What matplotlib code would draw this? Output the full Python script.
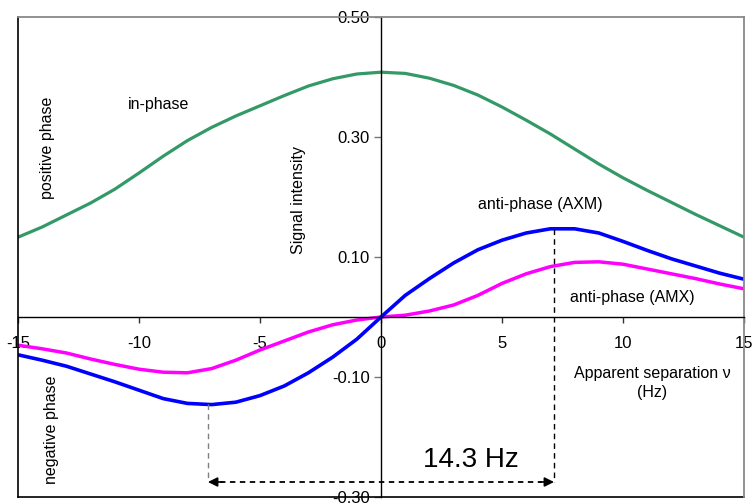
import numpy as np
import matplotlib.pyplot as plt

plt.rcParams['font.family'] = ['Liberation Sans', 'DejaVu Sans']

# apparent separation (Hz)
nu = list(range(-15, 16))

in_phase = [0.133, 0.150, 0.170, 0.190, 0.213, 0.240, 0.268, 0.294, 0.316, 0.335,
            0.352, 0.369, 0.385, 0.397, 0.405, 0.408, 0.406, 0.398, 0.386, 0.370,
            0.350, 0.328, 0.305, 0.280, 0.255, 0.232, 0.211, 0.191, 0.171, 0.152, 0.133]

anti_axm = [-0.063, -0.072, -0.082, -0.095, -0.108, -0.122, -0.136, -0.144, -0.146, -0.142,
            -0.131, -0.115, -0.093, -0.067, -0.037, 0.000, 0.036, 0.064, 0.090, 0.112,
            0.128, 0.140, 0.147, 0.147, 0.140, 0.126, 0.111, 0.097, 0.085, 0.073, 0.063]

anti_amx = [-0.047, -0.053, -0.060, -0.070, -0.079, -0.087, -0.092, -0.093, -0.086, -0.072,
            -0.055, -0.040, -0.025, -0.013, -0.005, 0.000, 0.003, 0.010, 0.020, 0.036,
            0.056, 0.072, 0.084, 0.091, 0.092, 0.088, 0.080, 0.072, 0.064, 0.055, 0.047]

yticks = [0.50, 0.30, 0.10, -0.10, -0.30]
xticks = [-15, -10, -5, 0, 5, 10, 15]

sep = 14.3          # distance between the two AXM extrema
y_min_axm = -0.145
y_max_axm = 0.147
y_arrow = -0.275

fig = plt.figure(figsize=(7.55, 5.04), dpi=100)
ax = fig.add_axes([18 / 755, 7 / 504, 726 / 755, 480 / 504])

ax.plot(nu, in_phase, color='#339966', lw=2.3, solid_joinstyle='round')
ax.plot(nu, anti_amx, color='#ff00ff', lw=2.5, solid_joinstyle='round')
ax.plot(nu, anti_axm, color='#0000ff', lw=2.6, solid_joinstyle='round')

ax.set_xlim(-15, 15)
ax.set_ylim(-0.30, 0.50)

# axes crossing at the origin
ax.spines['left'].set_position(('data', 0))
ax.spines['bottom'].set_position(('data', 0))
for s in ['left', 'bottom']:
    ax.spines[s].set_color('black')
    ax.spines[s].set_linewidth(1.0)
ax.spines['top'].set_color('#888888')
ax.spines['right'].set_color('#888888')
ax.spines['top'].set_linewidth(1.3)
ax.spines['right'].set_linewidth(1.3)

ax.set_yticks(yticks)
ax.set_yticklabels([f'{v:.2f}' for v in yticks])
ax.set_xticks(xticks)
ax.set_xticklabels([str(v) for v in xticks])
ax.tick_params(axis='y', direction='out', length=5, width=1, color='#777777',
               labelsize=12, pad=3)
ax.tick_params(axis='x', direction='out', length=4, width=1, color='#333333',
               labelsize=12, pad=10)

# outer frame left / bottom edges
ax.plot([0, 0], [0, 1], transform=ax.transAxes, color='black', lw=1.2, clip_on=False)
ax.plot([0, 1], [0, 0], transform=ax.transAxes, color='black', lw=1.2, clip_on=False)

# 14.3 Hz marker
x1, x2 = -sep / 2, sep / 2
ax.plot([x1, x1], [y_min_axm, y_arrow], color='#808080', lw=1, ls=(0, (4, 3)))
ax.plot([x2, x2], [y_max_axm, y_arrow], color='black', lw=1, ls=(0, (4, 3)))
ax.plot([x1 + 0.5, x2 - 0.5], [y_arrow, y_arrow], color='black', lw=1.3, ls=(0, (3, 2.5)))
ax.annotate('', xy=(x1, y_arrow), xytext=(x1 + 0.6, y_arrow),
            arrowprops=dict(arrowstyle='-|>', color='black', lw=1.2, mutation_scale=14,
                            shrinkA=0, shrinkB=0))
ax.annotate('', xy=(x2, y_arrow), xytext=(x2 - 0.6, y_arrow),
            arrowprops=dict(arrowstyle='-|>', color='black', lw=1.2, mutation_scale=14,
                            shrinkA=0, shrinkB=0))
ax.text(3.7, -0.238, '14.3 Hz', fontsize=20, ha='center', va='center')

# labels
fs = 11.5
ax.text(-9.2, 0.355, 'in-phase', fontsize=fs, ha='center', va='center')
ax.text(-13.8, 0.282, 'positive phase', fontsize=fs, rotation=90, ha='center', va='center')
ax.text(-13.6, -0.188, 'negative phase', fontsize=fs, rotation=90, ha='center', va='center')
ax.text(-3.4, 0.195, 'Signal intensity', fontsize=fs, rotation=90, ha='center', va='center')
ax.text(6.6, 0.187, 'anti-phase (AXM)', fontsize=fs, ha='center', va='center')
ax.text(10.4, 0.032, 'anti-phase (AMX)', fontsize=fs, ha='center', va='center')
ax.text(11.2, -0.11, 'Apparent separation \u03bd\n(Hz)', fontsize=fs, ha='center',
        va='center', linespacing=1.3)

fig.savefig('out.png', dpi=100)
